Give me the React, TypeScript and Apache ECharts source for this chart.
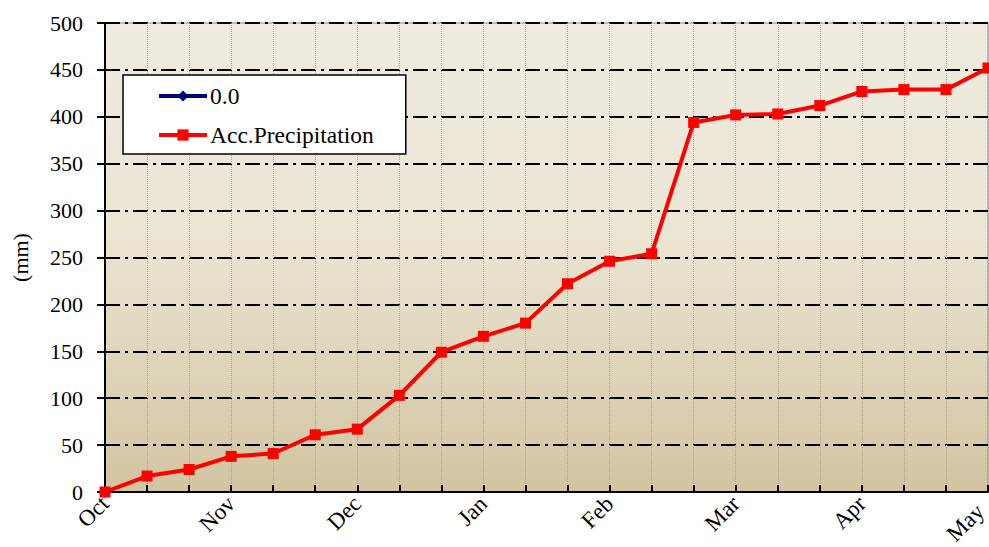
import React, { useEffect, useRef } from "react";
import * as echarts from "echarts";

const categories: string[] = [
  "Oct", "", "", "Nov", "", "", "Dec", "", "", "Jan", "", "",
  "Feb", "", "", "Mar", "", "", "Apr", "", "", "May",
];
const zeroSeries: (number | null)[] = [
  0, null, null, null, null, null, null, null, null, null, null, null,
  null, null, null, null, null, null, null, null, null, null,
];
const accPrecip: number[] = [
  0, 17, 24, 38, 41, 61, 67, 103, 149, 166, 180, 222,
  246, 254, 394, 402, 403, 412, 427, 429, 429, 452,
];
const yTicks = { min: 0, max: 500, interval: 50 };

const FONT = "'Liberation Serif', 'DejaVu Serif', serif";

export default function App() {
  const ref = useRef<HTMLDivElement>(null);
  useEffect(() => {
    if (!ref.current) return;
    const chart = echarts.init(ref.current, undefined, { renderer: "svg" });
    const lastIdx = categories.length - 1;
    chart.setOption({
      animation: false,
      backgroundColor: "#ffffff",
      textStyle: { fontFamily: FONT },
      grid: {
        left: 105,
        right: 1,
        top: 23,
        bottom: 55,
        outerBoundsMode: "none",
        containLabel: false,
        show: true,
        borderColor: "#8a8a8a",
        borderWidth: 1,
        backgroundColor: new echarts.graphic.LinearGradient(0, 0, 0, 1, [
          { offset: 0, color: "#eeebe0" },
          { offset: 0.45, color: "#ebe5d3" },
          { offset: 1, color: "#d2c4a1" },
        ]),
      },
      legend: {
        orient: "vertical",
        left: 123,
        top: 75,
        backgroundColor: "#ffffff",
        borderColor: "#000000",
        borderWidth: 1.5,
        borderRadius: 0,
        padding: [9, 32, 7, 34],
        itemWidth: 48,
        itemHeight: 14,
        itemGap: 15,
        lineStyle: { width: 4 },
        textStyle: { fontFamily: FONT, fontSize: 23.5, color: "#000", padding: [0, 0, 0, -2] },
        data: ["0.0", "Acc.Precipitation"],
      },
      xAxis: {
        type: "category",
        data: categories,
        boundaryGap: false,
        axisLine: { show: true, lineStyle: { color: "#000", width: 2 } },
        axisTick: { show: true, inside: true, length: 7, interval: 0, lineStyle: { color: "#000", width: 2 } },
        axisLabel: {
          interval: 0,
          rotate: 45,
          margin: 8,
          fontFamily: FONT,
          fontSize: 23,
          color: "#000",
          formatter: (v: string, i: number) => (i === lastIdx ? "{m|" + v + "}" : v),
          rich: {
            m: { fontFamily: FONT, fontSize: 23, color: "#000", padding: [0, 11, 0, 0] },
          },
        },
        splitLine: {
          show: true,
          interval: 0,
          lineStyle: { color: "#aaa290", type: "dotted", width: 1 },
        },
      },
      yAxis: {
        type: "value",
        min: yTicks.min,
        max: yTicks.max,
        interval: yTicks.interval,
        name: "(mm)",
        nameLocation: "middle",
        nameGap: 74,
        nameRotate: 90,
        nameTextStyle: { fontFamily: FONT, fontSize: 22, color: "#000" },
        axisLine: { show: true, lineStyle: { color: "#000", width: 2 } },
        axisTick: { show: true, inside: false, length: 8, lineStyle: { color: "#000", width: 2 } },
        axisLabel: { fontFamily: FONT, fontSize: 22, color: "#000", margin: 22 },
        splitLine: {
          show: true,
          lineStyle: { color: "#000", width: 2, type: [15, 5, 3, 5] },
        },
      },
      series: [
        {
          name: "0.0",
          type: "line",
          data: zeroSeries,
          symbol: "diamond",
          symbolSize: 12,
          itemStyle: { color: "#000080" },
          lineStyle: { color: "#000080", width: 4 },
          z: 2,
        },
        {
          name: "Acc.Precipitation",
          type: "line",
          data: accPrecip,
          symbol: "rect",
          symbolSize: 11,
          itemStyle: { color: "#ff0000" },
          lineStyle: { color: "#ff0000", width: 4 },
          z: 3,
        },
      ],
    });
    return () => chart.dispose();
  }, []);
  return (
    <div
      ref={ref}
      style={{ position: "fixed", left: 0, top: 0, width: 989, height: 547 }}
    />
  );
}
